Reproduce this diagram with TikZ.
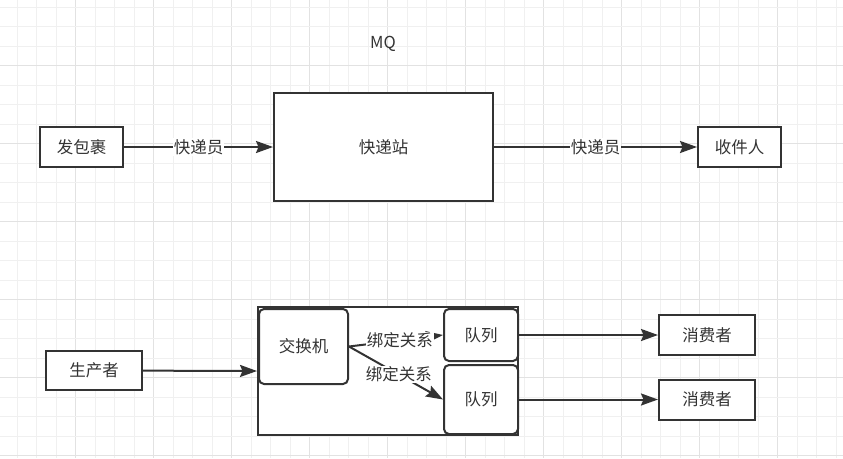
\documentclass[tikz,border=0pt]{standalone}
\usepackage{fontspec}
\setmainfont{Noto Sans CJK SC}
\usetikzlibrary{arrows.meta}
\definecolor{ink}{HTML}{333333}
\definecolor{gridminor}{HTML}{F0F0F0}
\definecolor{gridmajor}{HTML}{E2E2E2}
\begin{document}
\begin{tikzpicture}[x=1pt,y=-1pt,
  every node/.style={font=\fontsize{16.5}{19}\selectfont, text=ink},
  box/.style={draw=ink, line width=2pt, fill=white, inner sep=0pt},
  rbox/.style={box, rounded corners=5pt},
  conn/.style={draw=ink, line width=2pt, -{Stealth[length=17pt,width=12pt,inset=2.5pt]}},
  lab/.style={fill=white, inner sep=1pt}]
\useasboundingbox (0,0) rectangle (843,458);
\fill[white] (0,0) rectangle (843,458);
\foreach \i in {0,...,42} {
  \pgfmathtruncatemacro{\m}{mod(\i,4)}
  \ifnum\m=3 \draw[gridmajor, line width=1pt] ({17+19.5*\i},0) -- ({17+19.5*\i},458);
  \else \draw[gridminor, line width=1pt] ({17+19.5*\i},0) -- ({17+19.5*\i},458); \fi
}
\foreach \j in {0,...,23} {
  \pgfmathtruncatemacro{\m}{mod(\j,4)}
  \ifnum\m=3 \draw[gridmajor, line width=1pt] (0,{7+19.5*\j}) -- (843,{7+19.5*\j});
  \else \draw[gridminor, line width=1pt] (0,{7+19.5*\j}) -- (843,{7+19.5*\j}); \fi
}
\node (mq) at (383,44) {MQ};
\node[box, minimum width=83pt, minimum height=40pt] (fa) at (81.5,147) {发包裹};
\node[box, minimum width=219pt, minimum height=108pt] (kd) at (383.5,147) {快递站};
\node[box, minimum width=83pt, minimum height=40pt] (sj) at (739.5,147) {收件人};
\draw[conn] (fa) -- node[lab] {快递员} (kd);
\draw[conn] (kd) -- node[lab] {快递员} (sj);
\node[box, minimum width=96pt, minimum height=39pt] (scz) at (94,370.5) {生产者};
\node[box, minimum width=260pt, minimum height=128pt] (ctr) at (388,371) {};
\node[rbox, minimum width=89pt, minimum height=75pt] (jh) at (303.5,346.5) {交换机};
\node[rbox, minimum width=74pt, minimum height=52pt] (q1) at (481,335) {队列};
\node[rbox, minimum width=74pt, minimum height=69pt] (q2) at (481,399.5) {队列};
\node[box, minimum width=96pt, minimum height=40pt] (c1) at (707,335) {消费者};
\node[box, minimum width=96pt, minimum height=40pt] (c2) at (707,399.5) {消费者};
\draw[conn] (scz) -- (ctr.west);
\draw[conn] (jh.east) -- node[lab, pos=0.54] {绑定关系} (q1.west);
\draw[conn] (jh.east) -- node[lab, pos=0.53] {绑定关系} (q2.west);
\draw[conn] (q1) -- (c1);
\draw[conn] (q2) -- (c2);
\end{tikzpicture}
\end{document}
